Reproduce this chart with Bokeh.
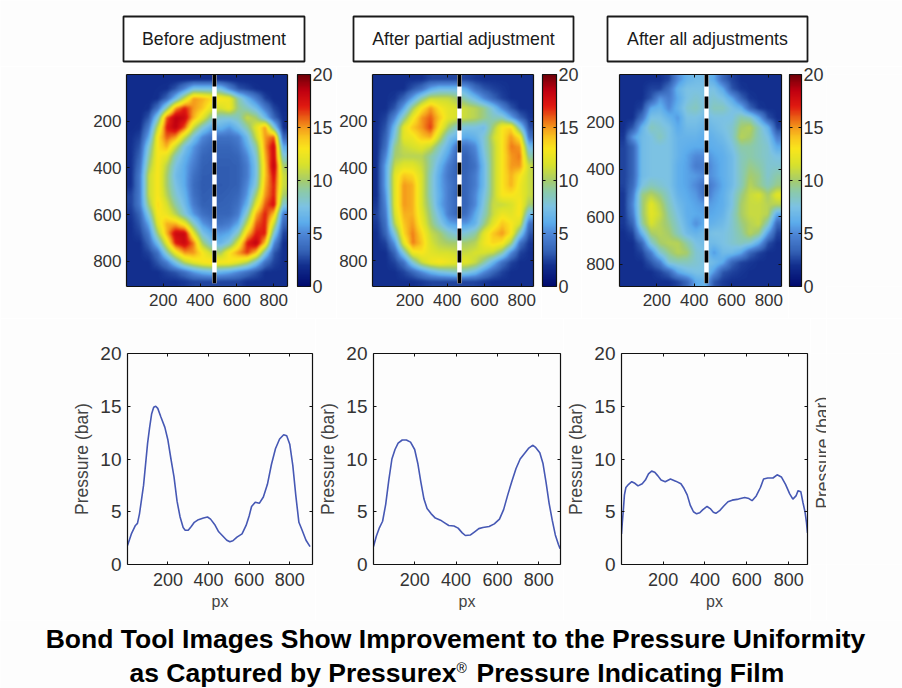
import numpy as np
from bokeh.embed import file_html
from bokeh.resources import INLINE
from bokeh.plotting import figure
from bokeh.layouts import row, column
from bokeh.models import Range1d, LinearAxis, FixedTicker, LinearColorMapper
from bokeh.core.properties import value

# ---------- data ----------
TITLES = ["Before adjustment", "After partial adjustment", "After all adjustments"]
TITLE_LINE1 = "Bond Tool Images Show Improvement to the Pressure Uniformity"
TITLE_LINE2A = "as Captured by Pressurex"
TITLE_LINE2B = "®"
TITLE_LINE2C = "Pressure Indicating Film"

MAP_BEFORE = [
 [1.8]*18,
 [1.8,1.8,1.8,1.9,2,3,5,7.5,7.5,7.5,7.5,5,3,2.5,2,1.8,1.8,1.8],
 [1.8,1.8,1.8,2,3.5,7,11,15,14.5,13.5,13,12.5,9,6.5,4.5,2.5,1.8,1.8],
 [1.8,1.8,2,4,9,15,17,15,14,12,11.5,12.5,9.5,8.5,7,4.5,2.5,1.8],
 [1.8,1.8,3,8,16,18.5,18,14.5,12,9,8,8,8.5,11,10,7,3.5,2],
 [1.8,2,4.5,11,17,18.5,16,11,8,6,6.5,5.5,7,9,12,15,8,2],
 [2,2.5,6,13,16,15,11,7.5,5,4,4,4,4.5,7,11,15,16,3.5],
 [2,3,8,13,14.5,11,7.5,5.5,4,3.5,3.5,3.5,4,6,9,15,18,6],
 [2,3.5,9,13,12,8.5,6.5,5,3.5,3.3,3.3,3.3,3.5,5,8,14.5,18,8],
 [2,4,10,13,10.5,7.5,6,4.5,3.3,3.2,3.2,3.2,3.3,4.5,7.5,14,18.5,10],
 [2,4.5,11,13,10,7,6,4,3.2,3.2,3.2,3.2,3.3,4.5,7.5,14,17.5,11],
 [2,4.5,11,13,10,7.5,6,3.8,3.1,3.2,3.1,3.2,3.3,5,8,14.5,17,11],
 [2.5,4.5,11,13,10.5,8,6.5,4,3.2,3.3,3.2,3.3,3.6,5.5,10,15,17,10],
 [2.5,4.5,10,13.5,11.5,9,7,4.5,3.3,3.3,3.3,3.4,4,6.5,12,16,17.5,8],
 [2.2,3.5,8,13,12.5,10.5,8,5.5,4,3.5,3.5,3.5,4.5,8.5,14.5,17,14,4.5],
 [2,3,6,12,14.5,14.5,12.5,8.5,5.5,4.5,4,4.5,6,11,16,17,11,3.5],
 [2,2.5,4.5,10,14.5,18,18,12,7.5,6,5.5,6,8.5,14,17,17,8,2.5],
 [2,2,3.5,7,12,17,18,15.5,10,7.5,6.5,8,12,17,18.5,14,5,2],
 [2,2,2.5,4,8.5,12.5,15,15,13,11,10,13,15,16.5,14,8,3,2],
 [2,2,2,3,4.5,7.5,10.5,12,13,13.5,13,13,12,10.5,7.5,4,2.5,2],
 [2,2,2,2,2.5,3,4,5.5,6.5,7,6.5,6,5,4,3,2,2,2],
 [2,2,2,2,2,2,2.2,2.5,2.5,2.5,2.5,2.5,2.5,2,2,2,2,2],
]
MAP_PARTIAL = [
 [2,2,2,2,2,2,2.5,2.5,2.5,2.5,2.5,2.2,2,2,2,2,2,2],
 [2,2,2,2,3,4,6,7,7,7,6,4,3,2.5,2.2,2,2,2],
 [2,2,2.2,3.5,6,9,11,11,11,10,8.5,7,5,3.5,2.5,2,2,2],
 [2,2,3,6,10,13,15,13,12,11.5,11,10.5,9.5,7.5,5,3,2,2],
 [2,2.5,5,9,12.5,15,16,14,12,11.5,11,10.5,9.5,8.5,8.5,6,3.5,2.2],
 [2,3,7,12,14,15,16.5,13,10,8,7.5,7.5,7,10,13,13.5,8,2.8],
 [2,3.5,8,12,12.5,14,14.5,11,7.5,6.5,6,6.5,8,11,13,15,13,4],
 [2,4,9.5,11,11.5,12,11,8.5,6.5,4,4,5,8,10.5,13,15.5,15,7],
 [2,5,10,10.5,10.5,10.5,9,7.5,5.5,3.5,3.3,4.5,7.5,10.5,13,15,15.5,9],
 [2,6,11,12,12,11,9,6.5,4.5,3.3,3.3,4,7,10.5,13,15,15,11],
 [2,6,12,14,13.5,11.5,8.5,6,4.2,3.3,3.5,4.5,7,10.5,13,14.5,13,11],
 [2,6,12,15,14.5,11.5,8.5,6,4.5,3.5,3.5,4.5,7,10.5,13,14.5,12.5,11],
 [2,5.5,12,15,14.5,11.5,8.5,6.2,4.5,3.3,3.5,5,7.5,10.5,13,13,12.5,11],
 [2.2,5,12,15,14.5,11.5,9,6,4.5,3.5,3.5,5,8,11,11,11.5,13,10],
 [2.5,4.5,11.5,14.5,14.5,12,9.5,7,4.5,3.5,4,6,8.5,11,12.5,12,13,7],
 [2.2,4,10.5,14,15,12.5,10,8,6,5.5,5.5,6.5,9.5,12,14,13,11.5,4],
 [2,3.5,8,13.5,15.5,13.5,11,10,8.5,7.5,8,9,12,14,15,13,8,3],
 [2,2.5,5.5,12,15.5,14,11.5,10.5,10,10,10,10.5,12.5,13.5,13,10,4,2.2],
 [2,2,3.5,8,12.5,13,12,11.5,11.5,11,11,11.5,11.5,11,9,5,2.5,2],
 [2,2,2.5,4,8,11,12.5,13,12.5,12,12,11,9,6.5,4,2.5,2,2],
 [2,2,2,2.5,3.5,5,6.5,7.5,8,8.5,8,7,5,3.5,2.5,2,2,2],
 [2,2,2,2,2,2.2,2.5,2.5,2.5,2.5,2.5,2.5,2.2,2,2,2,2,2],
]
MAP_ALL = [
 [2,2,2,2,2,2.5,5,6.5,7,7,6,3.5,2.5,2,2,2,2,2],
 [2,2,2,2.5,2.5,4,6.5,7.5,7.5,7.5,7.5,6,3,2.2,2,2,2,2],
 [2,2,2,3,5.5,4.5,6,7.5,8,7.5,8,7.5,6,3.5,2.2,2,2,2],
 [2,2,2.5,6,6.5,5,6.5,8,8.5,7.5,8.5,8.5,7.5,6.5,3.5,2.2,2,2],
 [2,2,4,7.5,7.5,6.5,5.5,7.5,7.5,7,7.5,7.5,7.5,9,8.5,6,2.8,2],
 [2,3,6.5,8.5,8,7.5,6,7,7,6.5,7,7.5,8,10,10.5,8.5,6.5,2.5],
 [2.2,5.5,7,7.5,8.5,7.5,6.5,6.5,6.5,6,6.5,7,8,10.5,10,8.5,7.5,4.5],
 [2.5,3.5,7,7.5,7.5,7.5,6.5,6.2,6,6,6.2,6.5,7.5,9,9,8.5,8,6],
 [2.5,3.5,7,7.5,7.5,7.5,6.5,5.8,5,5,5.8,6.2,7,8.5,9,8.5,8,7.5],
 [2.5,3.5,7,7.5,7.5,7.5,6.2,5.8,4.5,4.5,5.5,6.2,7,8.5,9.5,9,8,8],
 [2.5,3.5,7,7.5,7.5,7.5,6.2,5.8,5.5,5,5.5,6.2,7,8.5,10,9.5,8,9],
 [2.5,3.8,7.5,8.5,8,7.5,6.2,5.8,5,3.8,5,6,7,8.5,10.5,9.5,8.5,9.5],
 [2.2,4.5,9.5,10.5,9.5,8,6.5,6,5.5,4,5.5,6.2,7.5,9.5,11,11.5,10,12],
 [2.2,5,9.5,12,10.5,8.5,7,6.2,5.8,5.5,5.8,6.2,7.5,10,11,11,10.5,10.5],
 [2.2,4.5,9.5,12,11,9,7.5,6.2,6,5.8,6,6.5,8,10,11,11,10.5,6],
 [2.2,3.5,9,11.5,10.5,9.5,8,6.5,5.2,6.2,6.5,7,8,9.5,10.5,11,8.5,3.5],
 [2,2.5,6.5,10,10.5,10,8.5,7,6.5,7,7.5,7.5,8,9,10.5,9.5,5.5,2.5],
 [2,2,3.5,8,10,10.5,10.5,9,7.5,7,7,7.5,8,8.5,8,6,2.8,2],
 [2,2,2.5,4.5,8,9.5,10.5,10,8,7.5,5.5,7,7,6,3.5,2.5,2,2],
 [2,2,2,3,4.5,8,8.5,8.5,8,7.5,7,6,3.5,2.5,2.2,2,2,2],
 [2,2,2,2,2.5,3.5,6,7,7.5,7.5,5.5,3,2.5,2.2,2,2,2,2],
 [2,2,2,2,2,2,2.5,3.5,6,6.5,3,2.3,2,2,2,2,2,2],
]
MAP_SPAN_X = [875, 863, 868]
MAP_SPAN_Y = [908, 910, 893]
CUT_X = [478, 466, 466]

PX_BEFORE = [1,20,40,50,60,80,100,110,120,130,140,150,165,185,200,215,230,245,260,275,285,300,315,330,350,375,395,410,430,450,470,490,505,520,540,565,585,600,612,630,650,670,690,710,730,750,770,785,800,815,830,845,860,880,900]
BAR_BEFORE = [1.8,2.9,3.7,3.9,4.8,7.5,11.5,13.0,14.3,14.9,15.0,14.8,14.0,13.0,11.8,10.0,8.3,6.0,4.5,3.5,3.25,3.25,3.6,4.0,4.25,4.4,4.5,4.3,3.8,3.1,2.7,2.3,2.15,2.25,2.6,2.9,3.7,4.6,5.5,5.9,5.8,6.4,7.6,9.5,11,11.9,12.3,12.2,11.4,9.4,6.5,4.0,3.3,2.3,1.7]
PX_PARTIAL = [1,15,30,45,60,75,90,105,120,140,160,180,200,215,230,245,260,280,300,325,345,365,390,410,430,445,470,490,510,530,560,585,610,630,650,670,690,710,730,750,770,785,805,820,835,850,865,880,895,903]
BAR_PARTIAL = [1.7,2.7,3.5,4.1,5.7,8,10,10.9,11.5,11.8,11.8,11.6,10.9,9.6,7.8,6.2,5.3,4.8,4.4,4.2,3.95,3.7,3.65,3.45,3.0,2.75,2.8,3.1,3.4,3.5,3.6,3.85,4.3,5.2,6.6,7.9,9.1,10,10.5,11.0,11.3,11.1,10.6,9.6,7.8,5.8,4.2,2.8,1.9,1.5]
PX_ALL = [1,5,10,15,22,35,50,65,80,100,115,130,145,160,175,190,210,235,260,285,300,315,330,345,360,375,390,410,425,440,452,470,490,510,530,560,590,610,625,645,665,680,700,725,745,765,785,805,820,835,845,858,868,878,885,890]
BAR_ALL = [2.9,4.0,5.2,6.6,7.3,7.6,7.85,7.7,7.45,7.65,8.0,8.6,8.85,8.75,8.4,8.0,7.85,8.1,7.9,7.65,7.2,6.6,5.6,5.0,4.8,4.9,5.2,5.5,5.3,4.95,4.85,5.1,5.55,5.95,6.1,6.2,6.35,6.25,6.05,6.5,7.3,8.1,8.2,8.2,8.5,8.3,7.6,6.7,6.2,6.5,7.0,6.9,5.9,5.0,4.0,3.0]
PROFILE_XMAX = [912, 905, 890]

MAP_TICKS = [200, 400, 600, 800]
BAR_TICKS = [0, 5, 10, 15, 20]

CMAP_VALUES = [0, 2, 3.3, 5, 6, 7.5, 9, 10, 11.5, 13, 14, 15, 16, 17, 18.5, 20]
CMAP_COLORS = ["#000a6e", "#13308f", "#3462b6", "#4f88d8", "#5cacec", "#7cc2e4", "#8ccaa8", "#a6cc6c",
               "#d8e22c", "#f9e61c", "#f9c81e", "#f59a1c", "#ea5c14", "#e01a10", "#c00010", "#6e0008"]

# ---------- styling ----------
BG = "#fdfdfd"
INK = "#333333"
FONT = "Liberation Sans"
FRAME_H = 212


def build_palette():
    rgb = np.array([[int(c[i:i + 2], 16) for i in (1, 3, 5)] for c in CMAP_COLORS], float)
    xs = np.linspace(0, 20, 256)
    chans = [np.interp(xs, CMAP_VALUES, rgb[:, k]).round().astype(int) for k in range(3)]
    return ["#%02x%02x%02x" % tuple(int(ch[i]) for ch in chans) for i in range(256)]


MAPPER = LinearColorMapper(palette=build_palette(), low=0, high=20)


def smooth_field(grid, w, h):
    """Display shading of the hand-read grid, the way the source image shades it."""
    g = np.asarray(grid, float)
    rows = (np.arange(h) + .5) / h * g.shape[0] - .5
    cols = (np.arange(w) + .5) / w * g.shape[1] - .5
    tmp = np.array([np.interp(cols, np.arange(g.shape[1]), r) for r in g])
    out = np.array([np.interp(rows, np.arange(g.shape[0]), tmp[:, j]) for j in range(w)]).T
    k = np.ones(3) / 3
    pad = 1
    for axis in (0, 1):
        out = np.apply_along_axis(lambda v: np.convolve(np.pad(v, pad, mode="edge"), k, mode="valid"), axis, out)
    return out


def style_axis(ax, size, ticks, standoff):
    ax.ticker = FixedTicker(ticks=ticks)
    ax.minor_tick_line_color = None
    ax.major_tick_in = 3
    ax.major_tick_out = 0
    ax.axis_line_color = "#111111"
    ax.major_tick_line_color = "#111111"
    ax.axis_line_width = 1.2
    ax.major_label_text_font = FONT
    ax.major_label_text_font_size = size
    ax.major_label_text_color = INK
    ax.major_label_standoff = standoff


def mute_axis(ax):
    ax.major_label_text_font_size = "0px"
    ax.major_label_text_color = None
    ax.major_label_standoff = 0


def base_fig(width, height, left, right, top, bottom, xr, yr):
    p = figure(width=width, height=height, x_range=xr, y_range=yr, toolbar_location=None,
               output_backend="svg", min_border_left=left, min_border_right=right,
               min_border_top=top, min_border_bottom=bottom, background_fill_color=BG,
               border_fill_color=BG, outline_line_color=None)
    p.grid.visible = False
    return p


def boxed(p, xticks, yticks, xsize, ysize, xstand, ystand):
    style_axis(p.below[0], xsize, xticks, xstand)
    style_axis(p.left[0], ysize, yticks, ystand)
    top = LinearAxis()
    right = LinearAxis()
    style_axis(top, xsize, xticks, 0)
    style_axis(right, ysize, yticks, 0)
    mute_axis(top)
    mute_axis(right)
    p.add_layout(top, "above")
    p.add_layout(right, "right")


def map_panel(grid, span_x, span_y, cut_x, width, left, frame_w, right):
    p = base_fig(width, 252, left, right, 8, 32, Range1d(0, span_x), Range1d(span_y, 0))
    field = smooth_field(grid, frame_w, FRAME_H)
    p.image(image=[field], x=0, y=0, dw=span_x, dh=span_y, color_mapper=MAPPER)
    p.line([cut_x, cut_x], [0, span_y * .985], line_color="white", line_width=4.5)
    p.line([cut_x, cut_x], [0, span_y * .985], line_color="black", line_width=3.8, line_dash="12 10")
    boxed(p, MAP_TICKS, MAP_TICKS, "17px", "17px", 7, 5)
    return p


def color_bar(width, left, frame_w):
    p = base_fig(width, 252, left, width - left - frame_w, 8, 32, Range1d(0, 1), Range1d(0, 20))
    p.image(image=[np.linspace(0, 20, 256).reshape(-1, 1)], x=0, y=0, dw=1, dh=20, color_mapper=MAPPER)
    p.xaxis.visible = False
    p.yaxis.visible = False
    ax = LinearAxis()
    style_axis(ax, "18px", BAR_TICKS, 2)
    p.add_layout(ax, "right")
    inner = LinearAxis()
    style_axis(inner, "18px", BAR_TICKS, 0)
    mute_axis(inner)
    p.add_layout(inner, "left")
    p.outline_line_color = "#111111"
    return p


def profile_panel(xs, ys, xmax, width, left, frame_w, right):
    p = base_fig(width, 302, left, right, 35, 56, Range1d(1, xmax), Range1d(0, 20))
    p.line(xs, ys, line_color="#4658b4", line_width=1.6)
    bottom_axis, left_axis = p.below[0], p.left[0]
    boxed(p, MAP_TICKS, BAR_TICKS, "18px", "19px", 8, 6)
    left_axis.axis_label = "Pressure (bar)"
    bottom_axis.axis_label = "px"
    for ax in (left_axis, bottom_axis):
        ax.axis_label_text_font = FONT
        ax.axis_label_text_font_style = "normal"
        ax.axis_label_text_color = "#444444"
    left_axis.axis_label_text_font_size = "17.5px"
    bottom_axis.axis_label_text_font_size = "16px"
    left_axis.axis_label_standoff = 5
    bottom_axis.axis_label_standoff = 4
    return p


def blank(width, height):
    p = base_fig(width, height, 0, 0, 0, 0, Range1d(0, width), Range1d(height, 0))
    p.xaxis.visible = False
    p.yaxis.visible = False
    return p


# ---------- header ----------
header = base_fig(902, 66, 0, 0, 0, 0, Range1d(0, 902), Range1d(66, 0))
header.xaxis.visible = False
header.yaxis.visible = False
header.quad(left=[123, 353, 607], right=[304, 573, 807], top=[16] * 3, bottom=[61] * 3,
            fill_color="white", line_color="#1a1a1a", line_width=1.8)
header.text(x=[213.5, 463, 707], y=[38.5] * 3, text=TITLES, text_align="center",
            text_baseline="middle", text_font=value(FONT), text_font_size="17.75px", text_color="#1a1a1a")

# ---------- rows ----------
top_row = row(
    map_panel(MAP_BEFORE, MAP_SPAN_X[0], MAP_SPAN_Y[0], CUT_X[0], 296, 126, 161, 9),
    color_bar(40, 1, 13),
    map_panel(MAP_PARTIAL, MAP_SPAN_X[1], MAP_SPAN_Y[1], CUT_X[1], 205, 36, 161, 8),
    color_bar(40, 1, 14),
    map_panel(MAP_ALL, MAP_SPAN_X[2], MAP_SPAN_Y[2], CUT_X[2], 207, 38, 162, 7),
    color_bar(38, 1, 13),
    blank(76, 252),
    spacing=0,
)

clipped = blank(16, 302)
clipped.text(x=[12], y=[142], text=["Pressure (bar)"], angle=[np.pi / 2], text_align="center",
             text_baseline="middle", text_font=value(FONT), text_font_size="17.5px", text_color="#444444")

bottom_row = row(
    profile_panel(PX_BEFORE, BAR_BEFORE, PROFILE_XMAX[0], 315, 127, 185, 3),
    profile_panel(PX_PARTIAL, BAR_PARTIAL, PROFILE_XMAX[1], 248, 58, 187, 3),
    profile_panel(PX_ALL, BAR_ALL, PROFILE_XMAX[2], 247, 56, 188, 3),
    clipped,
    blank(76, 302),
    spacing=0,
)

# ---------- footer ----------
footer = base_fig(902, 68, 0, 0, 0, 0, Range1d(0, 902), Range1d(688, 620))
footer.xaxis.visible = False
footer.yaxis.visible = False
BOLD = dict(text_baseline="middle", text_font=value(FONT), text_font_style="bold", text_color="black")
footer.text(x=[455], y=[638], text=[TITLE_LINE1], text_align="center", text_font_size="26.5px", **BOLD)
footer.text(x=[456], y=[672.5], text=[TITLE_LINE2A], text_align="right", text_font_size="26.5px", **BOLD)
footer.text(x=[456], y=[667], text=[TITLE_LINE2B], text_align="left", text_font_size="14px",
            text_baseline="middle", text_font=value(FONT), text_color="black")
footer.text(x=[476], y=[672.5], text=[TITLE_LINE2C], text_align="left", text_font_size="26.5px", **BOLD)

page = column(header, top_row, bottom_row, footer, spacing=0)
open("out.html", "w").write(file_html(page, INLINE))
